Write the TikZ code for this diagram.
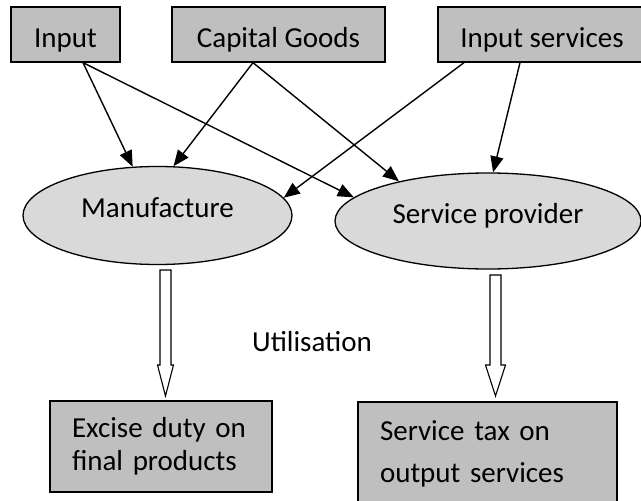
\documentclass[tikz,border=0pt]{standalone}
\usepackage{fontspec}
\setmainfont{Carlito}
\usetikzlibrary{arrows.meta,calc,shapes.geometric}
\definecolor{boxgray}{RGB}{191,191,191}
\definecolor{ovalgray}{RGB}{217,217,217}
\newcommand\hollowarrow[4]{% top coord, tip coord, shaft half width, head half width
  \draw[block] ($(#1)+(-#3,0)$) -- ($(#2)+(-#3,-31)$) -- ($(#2)+(-#4,-31)$) -- (#2)
    -- ($(#2)+(#4,-31)$) -- ($(#2)+(#3,-31)$) -- ($(#1)+(#3,0)$) -- cycle;}
\begin{document}
\begin{tikzpicture}[x=1pt,y=-1pt,
  lbl/.style={font=\fontsize{29}{35}\selectfont},
  box/.style={rectangle,draw=black,line width=1.3pt,fill=boxgray,inner sep=0pt,lbl},
  topbox/.style={box,minimum height=55pt,text height=25pt,text depth=0pt},
  oval/.style={ellipse,draw=black,line width=1.3pt,fill=ovalgray,inner sep=0pt,lbl,
               text height=20pt,text depth=16pt},
  conn/.style={line width=1.4pt,-{Triangle[length=16pt,width=13pt]}},
  block/.style={draw=black,line width=1.1pt,fill=white}
]
\useasboundingbox (0,0) rectangle (641,501);

% top boxes
\node[topbox,minimum width=109pt] (input) at (65.5,34.5) {Input};
\node[topbox,minimum width=213pt] (capital) at (278.5,34.5) {Capital Goods};
\node[topbox,minimum width=208pt] (inserv) at (542,34.5) {Input services};

% ellipses
\node[oval,minimum width=269pt,minimum height=98pt] (manuf) at (157.5,215.5) {Manufacture};
\node[oval,minimum width=306pt,minimum height=96pt] (serv) at (488,221) {Service provider};

% bottom boxes
\node[box,minimum height=91pt,text width=178pt,inner xsep=22pt,align=left,
      font=\fontsize{29}{37}\selectfont] (excise) at (161,446.5)
      {\raisebox{-4pt}{Excise duty on}\\final products};
\node[box,minimum height=103pt,text width=215pt,inner xsep=22pt,align=left,
      font=\fontsize{29}{42}\selectfont] (stax) at (487.5,453.5)
      {Service tax on\\output services};

\node[lbl] (util) at (312,342) {Utilisation};

% connectors
\draw[conn] ([xshift=17.5pt]input.south) -- (manuf.117.7);
\draw[conn] ([xshift=17.5pt]input.south) -- (serv.170.3);
\draw[conn] ([xshift=-25.5pt]capital.south) -- (manuf.72.3);
\draw[conn] ([xshift=-25.5pt]capital.south) -- (serv.156.6);
\draw[conn] ([xshift=-78pt]inserv.south) -- (manuf.8.7);
\draw[conn] ([xshift=-22pt]inserv.south) -- (serv.84.2);

% hollow block arrows
\coordinate (a1top) at (165.5,270);
\coordinate (a1tip) at (165.5,396);
\coordinate (a2top) at (495.5,275);
\coordinate (a2tip) at (495.5,396);
\hollowarrow{a1top}{a1tip}{5.5}{8}
\hollowarrow{a2top}{a2tip}{5.5}{10}
\end{tikzpicture}
\end{document}
